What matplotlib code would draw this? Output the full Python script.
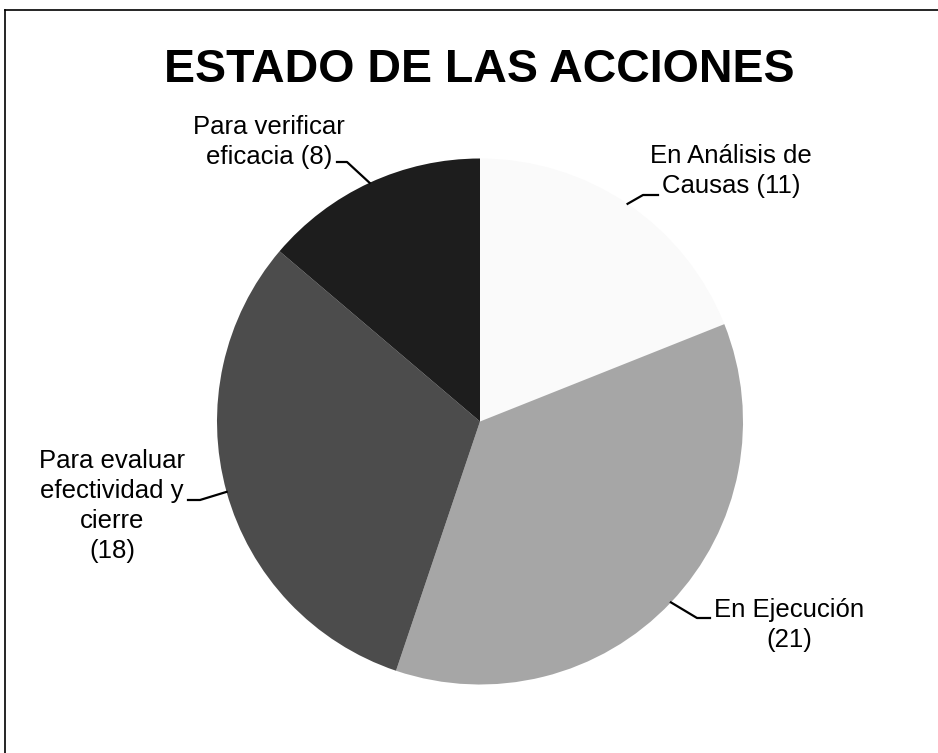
import numpy as np
from matplotlib import pyplot as plt

# data
labels = ["En Análisis de\nCausas (11)", "En Ejecución\n(21)",
          "Para evaluar\nefectividad y\ncierre\n(18)", "Para verificar\neficacia (8)"]
values = [11, 21, 18, 8]
colors = ["#fafafa", "#a6a6a6", "#4c4c4c", "#1d1d1d"]

W, H = 938, 753
plt.rcParams['font.family'] = ['Liberation Sans', 'DejaVu Sans']

fig = plt.figure(figsize=(W / 100, H / 100), dpi=100)
ax = fig.add_axes([0, 0, 1, 1])

# pie in pixel space (y measured from bottom)
cx, cy, r = 480, H - 421.5, 263
wedges, _ = ax.pie(values, colors=colors, startangle=90, counterclock=False,
                   center=(cx, cy), radius=r, frame=True,
                   wedgeprops=dict(linewidth=0))
ax.set_xlim(0, W)
ax.set_ylim(0, H)
ax.axis("off")

ax.text(479, H - 70, "ESTADO DE LAS ACCIONES", ha="center", va="center",
        fontsize=33.5, fontweight="bold")

# label placement: text centre, elbow point, end of horizontal stub (pixels from top)
label_pos = [(731, 171), (789, 625), (112, 506), (269, 142)]
elbows = [((643, 195), (658, 195)), ((697, 618), (710, 618)),
          ((200, 500), (188, 500)), ((347, 162), (337, 162))]

for w, lab, (tx, ty), (e1, e2) in zip(wedges, labels, label_pos, elbows):
    mid = np.deg2rad((w.theta1 + w.theta2) / 2)
    px, py = cx + r * np.cos(mid), cy + r * np.sin(mid)
    ax.plot([px, e1[0], e2[0]], [py, H - e1[1], H - e2[1]], color="black", lw=1.6)
    ax.text(tx, H - ty, lab, ha="center", va="center", fontsize=18.5,
            linespacing=1.3, multialignment="center")

# scanned frame: top and left edges
ax.plot([5, W], [H - 10, H - 10], color="black", lw=1.2)
ax.plot([5, 5], [H - 10, 0], color="black", lw=1.2)

fig.savefig("out.png", dpi=100)
plt.close()
